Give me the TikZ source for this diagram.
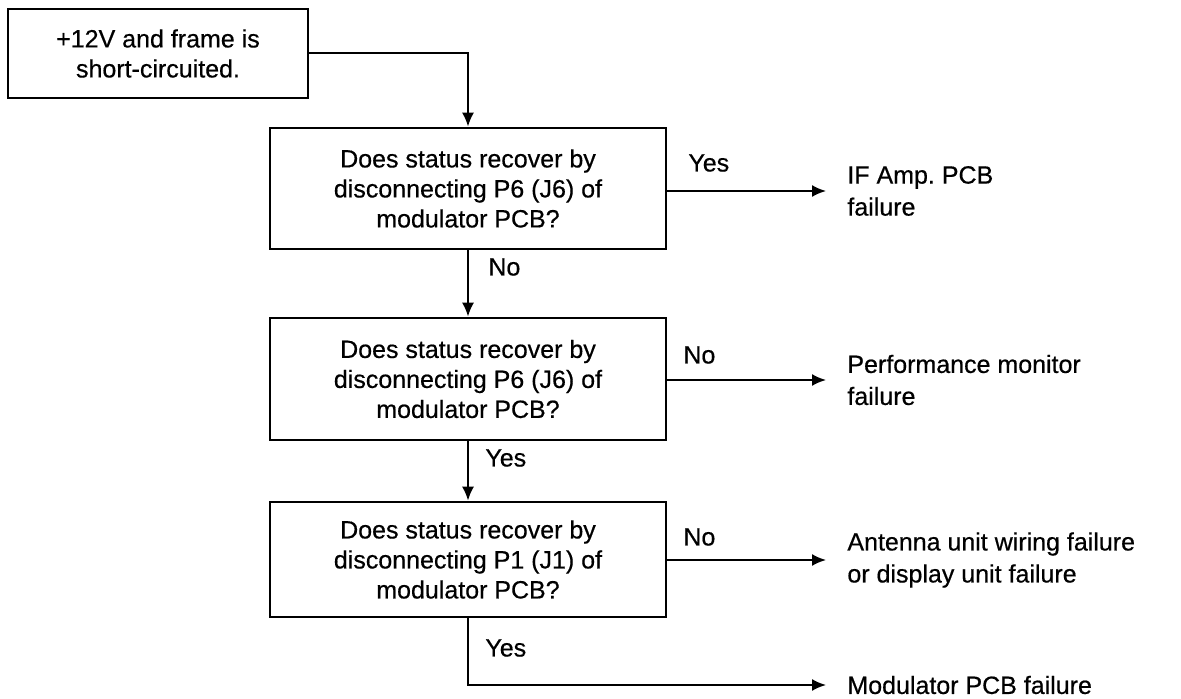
\documentclass[tikz,border=0pt]{standalone}
\usepackage{fontspec}
\setmainfont{Liberation Sans}[FakeBold=0.5]
\frenchspacing
\usetikzlibrary{arrows.meta}
\begin{document}
\begin{tikzpicture}[x=0.5pt,y=-0.5pt,
  every node/.style={font=\fontsize{12.5}{15}\selectfont},
  box/.style={draw, line width=1.3pt, align=center, inner sep=0pt,
    minimum width=198pt},
  result/.style={anchor=west, align=left, inner xsep=10.5pt, inner ysep=0pt,
    font=\fontsize{12.5}{16}\selectfont},
  lbl/.style={anchor=west, inner sep=0pt},
  flow/.style={line width=1pt, -{Latex[length=7pt,width=6pt]}}]
\useasboundingbox (0,0) rectangle (1181,699);

% start condition and the three checks
\node[box, minimum width=150pt, minimum height=44.5pt] (start) at (158,53.5)
  {+12V and frame is\\short-circuited.};
\node[box, minimum height=60.5pt] (q1) at (468,188.5)
  {Does status recover by\\disconnecting P6 (J6) of\\modulator PCB?};
\node[box, minimum height=61pt] (q2) at (468,379)
  {Does status recover by\\disconnecting P6 (J6) of\\modulator PCB?};
\node[box, minimum height=57.5pt] (q3) at (468,559.5)
  {Does status recover by\\disconnecting P1 (J1) of\\modulator PCB?};

% diagnosed faults
\node[result] (r1) at (826,191) {IF Amp. PCB\\failure};
\node[result] (r2) at (826,380) {Performance monitor\\failure};
\node[result] (r3) at (826,560) {Antenna unit wiring failure\\or display unit failure};
\node[result] (r4) at (826,685) {Modulator PCB failure};

% branch labels
\node[lbl] (y1) at (688,163) {Yes};
\node[lbl] (n1) at (488,267) {No};
\node[lbl] (n2) at (683,355) {No};
\node[lbl] (y2) at (485,458) {Yes};
\node[lbl] (n3) at (683,537) {No};
\node[lbl] (y3) at (485,648) {Yes};

% connectors
\draw[flow] (start.east) -| (q1.north);
\draw[flow] (q1.south) -- (q2.north);
\draw[flow] (q2.south) -- (q3.north);
\draw[flow] (q1.east |- r1.west) -- (r1.west);
\draw[flow] (q2.east |- r2.west) -- (r2.west);
\draw[flow] (q3.east |- r3.west) -- (r3.west);
\draw[flow] (q3.south) |- (r4.west);
\end{tikzpicture}
\end{document}
